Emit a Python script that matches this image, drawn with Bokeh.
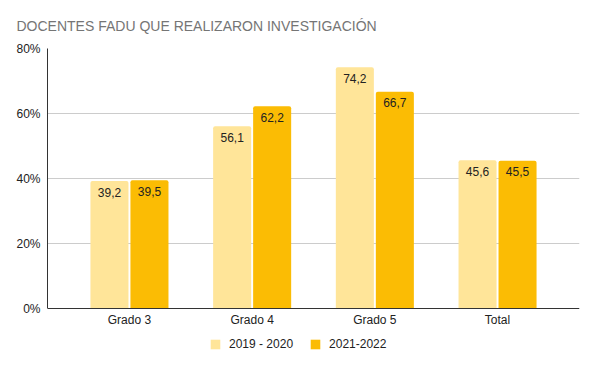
from bokeh.plotting import figure
from bokeh.models import (ColumnDataSource, Range1d, FixedTicker, Legend, LegendItem)
from bokeh.transform import dodge
from bokeh.core.properties import value
from bokeh.embed import file_html
from bokeh.resources import INLINE

title = "DOCENTES FADU QUE REALIZARON INVESTIGACIÓN"
categories = ["Grado 3", "Grado 4", "Grado 5", "Total"]
series_names = ["2019 - 2020", "2021-2022"]
vals_2019_2020 = [39.2, 56.1, 74.2, 45.6]
vals_2021_2022 = [39.5, 62.2, 66.7, 45.5]
y_ticks = [0, 20, 40, 60, 80]
y_tick_labels = ["0%", "20%", "40%", "60%", "80%"]

colors = ["#FFE599", "#FBBC04"]
FONT = "Liberation Sans"

idx = list(range(len(categories)))
fmt = lambda v: f"{v:.1f}".replace(".", ",")
src = ColumnDataSource(dict(
    idx=idx,
    a=vals_2019_2020, b=vals_2021_2022,
    la=[fmt(v) for v in vals_2019_2020],
    lb=[fmt(v) for v in vals_2021_2022],
))

p = figure(width=595, height=367, output_backend="svg", toolbar_location=None,
           x_range=Range1d(-0.668, 3.668), y_range=Range1d(-16.0, 80),
           min_border_left=47, min_border_right=16, min_border_top=48, min_border_bottom=7)
p.outline_line_color = None
p.background_fill_color = "white"
p.border_fill_color = "white"

bw = 0.31
off = 0.163
ra = p.vbar(x=dodge("idx", -off), top="a", bottom=0, width=bw, source=src, fill_color=colors[0],
            line_color=None, border_radius=(2, 2, 0, 0))
rb = p.vbar(x=dodge("idx", off), top="b", bottom=0, width=bw, source=src, fill_color=colors[1],
            line_color=None, border_radius=(2, 2, 0, 0))

for col, lab in (("a", "la"), ("b", "lb")):
    p.text(x=dodge("idx", -off if col == "a" else off), y=col, text=lab, source=src,
           text_align="center", text_baseline="middle", y_offset=11,
           text_font=value(FONT), text_font_size="12px", text_color="#222222")

# axes
p.xaxis.fixed_location = 0
p.xaxis.ticker = FixedTicker(ticks=idx)
p.xaxis.major_label_overrides = {i: c for i, c in zip(idx, categories)}
p.yaxis.ticker = FixedTicker(ticks=y_ticks)
p.yaxis.major_label_overrides = {t: l for t, l in zip(y_ticks, y_tick_labels)}
p.yaxis.bounds = (y_ticks[0], y_ticks[-1])
for ax in (p.xaxis, p.yaxis):
    ax.major_tick_line_color = None
    ax.minor_tick_line_color = None
    ax.major_tick_out = 0
    ax.major_tick_in = 0
    ax.major_label_text_font = FONT
    ax.major_label_text_font_size = "12px"
    ax.major_label_text_color = "#222222"
    ax.axis_line_color = "#333333"
p.xaxis.major_label_standoff = 4
p.yaxis.major_label_standoff = 7
p.xgrid.grid_line_color = None
p.ygrid.grid_line_color = "#CCCCCC"
p.ygrid.ticker = FixedTicker(ticks=y_ticks[1:])

# title
p.title.text = title
p.title.align = "left"
p.title.offset = -31
p.title.standoff = 30
p.title.text_font = FONT
p.title.text_font_size = "14px"
p.title.text_font_style = "normal"
p.title.text_color = "#757575"

legend = Legend(items=[LegendItem(label=series_names[0], renderers=[ra]),
                       LegendItem(label=series_names[1], renderers=[rb])],
                orientation="horizontal", location=(162, 9),
                glyph_width=12, glyph_height=12, label_height=12,
                label_standoff=8, spacing=16, padding=0, margin=0,
                border_line_color=None, background_fill_alpha=0,
                label_text_font=FONT, label_text_font_size="12px",
                label_text_color="#222222")
p.add_layout(legend, "center")

open("out.html", "w").write(file_html(p, INLINE))
